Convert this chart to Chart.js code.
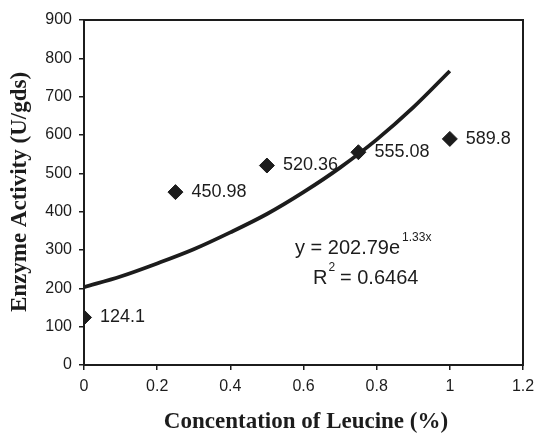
<!DOCTYPE html>
<html><head><meta charset="utf-8">
<script src="https://cdn.jsdelivr.net/npm/chart.js@4.4.1/dist/chart.umd.min.js"></script>
<style>html,body{margin:0;padding:0;background:#fff;}canvas{display:block;}</style>
</head><body>
<canvas id="c" width="535" height="433"></canvas>
<script>
const xValues = [0, 0.25, 0.5, 0.75, 1];
const yValues = [124.1, 450.98, 520.36, 555.08, 589.8];
const pointLabels = ['124.1', '450.98', '520.36', '555.08', '589.8'];
const trendX = [0, 0.1, 0.2, 0.3, 0.4, 0.5, 0.6, 0.7, 0.8, 0.9, 1.0];
const trendY = [203, 231, 265, 302, 346, 394, 451, 515, 588, 672, 767];
const xTicks = [0, 0.2, 0.4, 0.6, 0.8, 1, 1.2];
const yTicks = [0, 100, 200, 300, 400, 500, 600, 700, 800, 900];
const xTitle = 'Concentation of Leucine (%)';
const yTitle = 'Enzyme Activity (U/gds)';
const eqMain = 'y = 202.79e';
const eqSup = '1.33x';
const r2Main = 'R';
const r2Sup = '2';
const r2Rest = ' = 0.6464';

const ink = '#1c1c1c';
const sans = '"Liberation Sans", Arial, sans-serif';
const serif = '"Liberation Serif", "Times New Roman", serif';

const overlay = {
  id: 'overlay',
  afterDraw(chart) {
    const ctx = chart.ctx, a = chart.chartArea;
    const xs = chart.scales.x, ys = chart.scales.y;
    ctx.save();
    ctx.strokeStyle = ink; ctx.lineWidth = 2;
    ctx.strokeRect(a.left, a.top, a.right - a.left, a.bottom - a.top);
    ctx.fillStyle = ink;
    ctx.font = '18px ' + sans;
    ctx.textBaseline = 'middle'; ctx.textAlign = 'left';
    xValues.forEach((x, i) => {
      ctx.fillText(pointLabels[i], xs.getPixelForValue(x) + 16, ys.getPixelForValue(yValues[i]));
    });
    // equation
    let ex = 295, ey = 248;
    ctx.font = '20px ' + sans;
    ctx.fillText(eqMain, ex, ey);
    let w = ctx.measureText(eqMain).width;
    ctx.font = '12px ' + sans;
    ctx.fillText(eqSup, ex + w + 2, ey - 10);
    let rx = 313, ry = 278;
    ctx.font = '20px ' + sans;
    ctx.fillText(r2Main, rx, ry);
    let w2 = ctx.measureText(r2Main).width;
    ctx.font = '12px ' + sans;
    ctx.fillText(r2Sup, rx + w2 + 1, ry - 10);
    ctx.font = '20px ' + sans;
    ctx.fillText(r2Rest, rx + w2 + 7, ry);
    // titles
    ctx.font = 'bold 23px ' + serif;
    ctx.textAlign = 'center';
    ctx.fillText(xTitle, 306, 422);
    ctx.translate(20, 192);
    ctx.rotate(-Math.PI / 2);
    ctx.fillText(yTitle, 0, 0);
    ctx.restore();
  }
};

new Chart(document.getElementById('c'), {
  type: 'scatter',
  data: {
    datasets: [
      {
        data: trendX.map((x, i) => ({x, y: trendY[i]})),
        showLine: true, borderColor: ink, borderWidth: 3.8, pointRadius: 0,
        tension: 0.4, cubicInterpolationMode: 'monotone', fill: false
      },
      {
        data: xValues.map((x, i) => ({x, y: yValues[i]})),
        pointStyle: 'rectRot', pointRadius: 7.5, backgroundColor: ink, borderColor: ink, borderWidth: 1
      }
    ]
  },
  options: {
    responsive: false, animation: false,
    layout: {padding: {left: 0, top: 20, right: 12, bottom: 0}},
    plugins: {legend: {display: false}, tooltip: {enabled: false}},
    scales: {
      x: {
        type: 'linear', min: 0, max: 1.2,
        afterBuildTicks: s => { s.ticks = xTicks.map(v => ({value: v})); },
        afterFit: s => { s.height = 68; s.paddingRight = 0; s.paddingLeft = 0; },
        grid: {drawOnChartArea: false, drawTicks: true, tickLength: 5, color: ink, lineWidth: 1.5},
        border: {display: true, color: ink, width: 2},
        ticks: {color: ink, font: {family: sans, size: 16}, padding: 7, maxRotation: 0,
          callback: v => String(Number(v.toFixed(1)))}
      },
      y: {
        type: 'linear', min: 0, max: 900,
        afterBuildTicks: s => { s.ticks = yTicks.map(v => ({value: v})); },
        afterFit: s => { s.width = 84; s.paddingTop = 0; s.paddingBottom = 0; },
        grid: {drawOnChartArea: false, drawTicks: true, tickLength: 5, color: ink, lineWidth: 1.5},
        border: {display: true, color: ink, width: 2},
        ticks: {color: ink, font: {family: sans, size: 16}, padding: 7}
      }
    }
  },
  plugins: [overlay]
});
</script>
</body></html>
